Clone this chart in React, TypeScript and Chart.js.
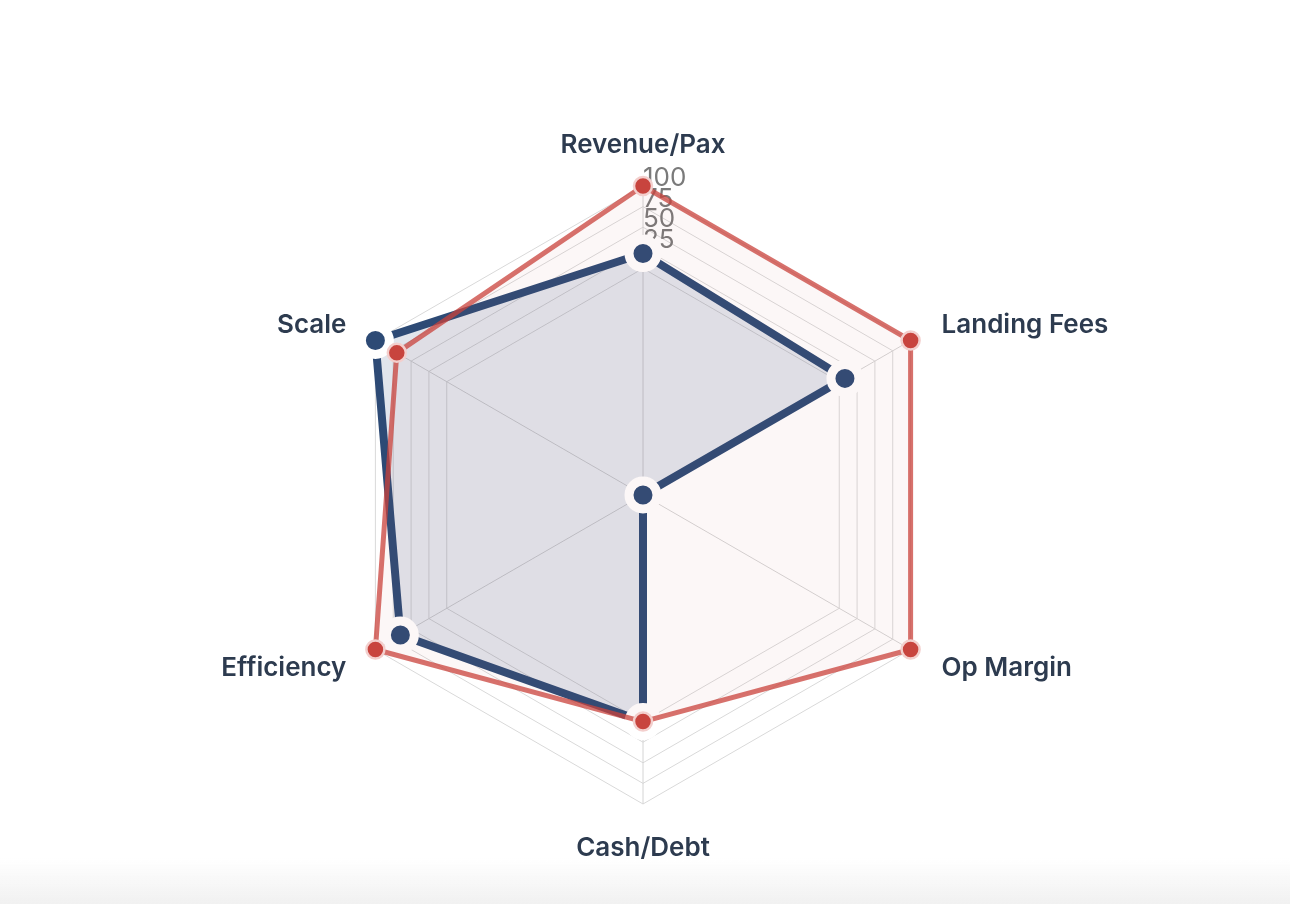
import React, { useEffect, useRef } from "react";
import { Chart, registerables } from "chart.js";

Chart.register(...registerables);

const CATEGORIES = ["Revenue/Pax", "Landing Fees", "Op Margin", "Cash/Debt", "Efficiency", "Scale"];
const PEER_VALUES = [100, 100, 100, 0, 100, 70];
const COMPANY_VALUES = [18, 8, -275, 0, 65, 100];
const TICK_LABELS = [25, 50, 75, 100];
const SCALE_MIN = -275;
const SCALE_MAX = 100;
const TICK_STEP = 25;

const LABEL_FONT = "600 26px Inter, 'Noto Sans', sans-serif";
const TICK_FONT = "400 26px Inter, 'Noto Sans', sans-serif";

const tickLabelPlugin = {
  id: "tickLabelsCustom",
  beforeDatasetsDraw(chart: any) {
    const s = chart.scales.r;
    const ctx = chart.ctx;
    ctx.save();
    ctx.font = TICK_FONT;
    ctx.fillStyle = "#7a7a7a";
    ctx.textAlign = "left";
    ctx.textBaseline = "alphabetic";
    TICK_LABELS.forEach((v) => {
      const d = s.getDistanceFromCenterForValue(v);
      ctx.fillText(String(v), s.xCenter + 0, s.yCenter - d);
    });
    ctx.restore();
  },
};

const pointLabelPlugin = {
  id: "pointLabelsCustom",
  afterDatasetsDraw(chart: any) {
    const s = chart.scales.r;
    const ctx = chart.ctx;
    const labels: string[] = chart.data.labels;
    ctx.save();
    ctx.font = LABEL_FONT;
    ctx.fillStyle = "#2d3b4f";
    ctx.textBaseline = "alphabetic";
    labels.forEach((label, i) => {
      const p = s.getPointPosition(i, s.drawingArea);
      const a = s.getIndexAngle(i);
      const sin = Math.sin(a);
      const cos = Math.cos(a);
      let x = p.x;
      let y = p.y;
      if (Math.abs(sin) < 0.01) {
        ctx.textAlign = "center";
        y = cos > 0 ? p.y - 33 : p.y + 52;
      } else {
        ctx.textAlign = sin > 0 ? "left" : "right";
        x = p.x + (sin > 0 ? 31 : -29);
        y = cos > 0 ? p.y - 8 : p.y + 26;
      }
      ctx.fillText(label, x, y);
    });
    ctx.restore();
  },
};

export default function App() {
  const ref = useRef<HTMLCanvasElement>(null);

  useEffect(() => {
    if (!ref.current) return;
    const chart = new Chart(ref.current, {
      type: "radar",
      data: {
        labels: CATEGORIES,
        datasets: [
          {
            label: "Peer",
            data: PEER_VALUES,
            borderColor: "rgba(201,65,59,0.75)",
            backgroundColor: "rgba(190,95,90,0.05)",
            borderWidth: 5,
            borderJoinStyle: "round",
            pointRadius: 9,
            pointBorderWidth: 2.5,
            pointBackgroundColor: "#c8443e",
            pointBorderColor: "#f3cfcd",
            fill: "start",
          },
          {
            label: "Company",
            data: COMPANY_VALUES,
            borderColor: "#2d4a75",
            backgroundColor: "rgba(44,74,117,0.14)",
            borderWidth: 8,
            borderJoinStyle: "round",
            pointRadius: 14,
            pointBorderWidth: 9,
            pointBackgroundColor: "#2d4a75",
            pointBorderColor: "#ffffff",
            fill: "start",
          },
        ],
      },
      options: {
        responsive: false,
        animation: false,
        events: [],
        layout: { padding: { top: 186, bottom: 99, left: 0, right: 4 } },
        plugins: {
          legend: { display: false },
          tooltip: { enabled: false },
          title: { display: false },
        },
        elements: { line: { tension: 0 } },
        scales: {
          r: {
            min: SCALE_MIN,
            max: SCALE_MAX,
            beginAtZero: false,
            ticks: { display: false, stepSize: TICK_STEP },
            grid: {
              lineWidth: 1,
              color: (c: any) =>
                c.tick && c.tick.value >= 0 ? "#d9d9d9" : "rgba(0,0,0,0)",
            },
            angleLines: { color: "#d4d4d4", lineWidth: 1 },
            pointLabels: { display: false },
          },
        },
      },
      plugins: [tickLabelPlugin, pointLabelPlugin],
    } as any);
    return () => chart.destroy();
  }, []);

  return (
    <div
      style={{
        position: "fixed",
        left: 0,
        top: 0,
        width: 1290,
        height: 904,
        background: "#ffffff",
        overflow: "hidden",
      }}
    >
      <canvas ref={ref} width={1290} height={904} style={{ display: "block" }} />
      <div
        style={{
          position: "absolute",
          left: 0,
          right: 0,
          bottom: 0,
          height: 46,
          background: "linear-gradient(rgba(242,242,242,0), #f1f1f1)",
          pointerEvents: "none",
        }}
      />
    </div>
  );
}
